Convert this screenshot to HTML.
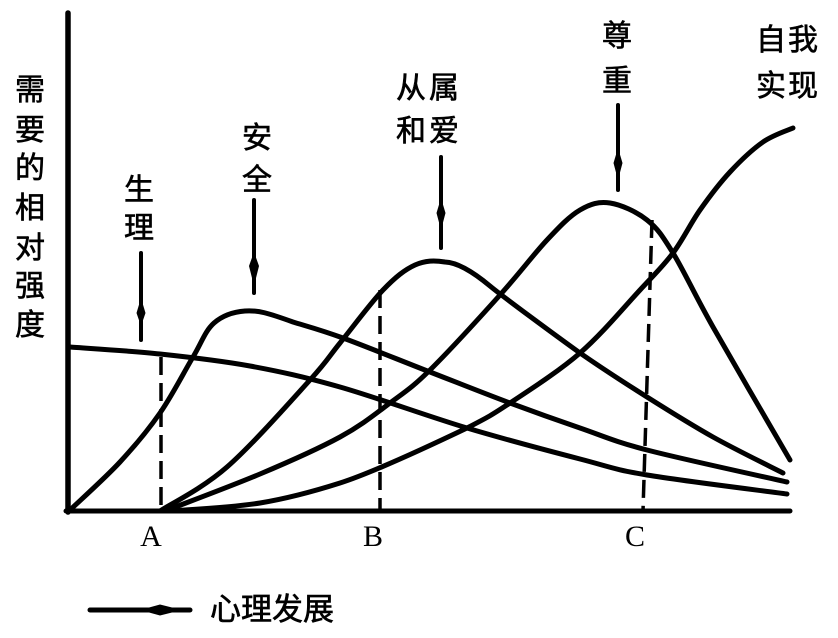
<!DOCTYPE html>
<html>
<head>
<meta charset="utf-8">
<style>
html,body{margin:0;padding:0;background:#fff;}
body{width:838px;height:638px;overflow:hidden;}
svg{display:block;}
.cn{font-family:"Liberation Sans","Noto Sans CJK SC",sans-serif;font-size:30px;fill:#000;stroke:#000;stroke-width:0.6px;}
.lt{font-family:"Liberation Serif",serif;font-size:30px;fill:#000;}
</style>
</head>
<body>
<svg width="838" height="638" viewBox="0 0 838 638" xmlns="http://www.w3.org/2000/svg">
<rect width="838" height="638" fill="#fff"/>

<!-- axes -->
<line x1="68" y1="13" x2="68" y2="512" stroke="#000" stroke-width="5.5" stroke-linecap="round"/>
<line x1="66" y1="511" x2="790" y2="511" stroke="#000" stroke-width="5" stroke-linecap="round"/>

<!-- dashed lines -->
<g stroke="#000" stroke-width="3.5" stroke-dasharray="18 8" fill="none">
<line x1="161" y1="357" x2="161" y2="511"/>
<line x1="380" y1="290" x2="380" y2="511"/>
<line x1="652" y1="220" x2="643" y2="511"/>
</g>

<!-- curves -->
<g stroke="#000" stroke-width="5" fill="none" stroke-linecap="round" stroke-linejoin="round">
<!-- 生理 -->
<path d="M70,347 C85,348.2 130,350.8 160,354 C190,357.2 220,360.5 250,366 C280,371.5 303.8,376.7 340,387 C376.2,397.3 427,416 467,428 C507,440 550,451.2 580,459 C610,466.8 612.5,469.2 647,475 C681.5,480.8 763.7,490.8 787,494"/>
<!-- 安全 -->
<path d="M70,510 C78.3,502 105,478.2 120,462 C135,445.8 147.8,430.5 160,413 C172.2,395.5 184.3,371.5 193,357 C201.7,342.5 205,331 214,323 C222,316 232,312 245,311 C258,310 268,313 293,322 C307.7,326.5 320.2,329.7 343,338 C365.8,346.3 402.2,361.2 430,372 C457.8,382.8 485,393.7 510,403 C535,412.3 557.2,420.2 580,428 C602.8,435.8 612.5,441 647,450 C681.5,459 763.7,476.7 787,482"/>
<!-- 从属和爱 -->
<path d="M160,511 C171.2,503.7 202,488.8 227,467 C252,445.2 291.2,400.7 310,380 C328.8,359.3 327.8,358 340,343 C352.2,328 370.5,303 383,290 C395.5,277 404.7,269.7 415,265 C425.3,260.3 434.7,260.3 445,262 C460,262.5 478,276 490,286 C502,296 555,335 580,353 C604.5,370 624.8,383 647,397 C669.2,411 690.3,424.3 713,437 C735.7,449.7 771.3,467 783,473"/>
<!-- 尊重 -->
<path d="M165,511 C180.8,504.8 230.8,486.3 260,474 C289.2,461.7 318.3,448.8 340,437 C361.7,425.2 375,414.2 390,403 C405,391.8 411.7,388 430,370 C448.3,352 480.5,316.7 500,295 C519.5,273.3 533.7,254.2 547,240 C560.3,225.8 569.5,216.2 580,210 C590.5,203.8 598.8,201.3 610,203 C621.2,204.7 636.5,211.7 647,220 C657.5,228.3 662,235.2 673,253 C684,270.8 693.5,292.5 713,327 C732.5,361.5 777.2,437.8 790,460"/>
<!-- 自我实现 -->
<path d="M170,511 C185,509.7 231.7,507.7 260,503 C288.3,498.3 318,490 340,483 C362,476 400,460 467,428 C488.7,416.8 491.2,415.5 510,403 C528.8,390.5 558.3,371.8 580,353 C601.7,334.2 624.5,306.7 640,290 C655.5,273.3 663,266.3 673,253 C683,239.7 690.5,223.5 700,210 C709.5,196.5 719.5,183.3 730,172 C740.5,160.7 752.5,149.3 763,142 C773.5,134.7 788,130.3 793,128"/>
</g>

<!-- arrows -->
<g fill="#000" stroke="#000">
<line x1="141" y1="253" x2="141" y2="340" stroke-width="4" stroke-linecap="round"/>
<path d="M141,298 L145.5,313 L141,326 L136.5,313 Z" stroke="none"/>
<line x1="254" y1="200" x2="254" y2="293" stroke-width="4" stroke-linecap="round"/>
<path d="M254,252 L259,266 L254,286 L249,266 Z" stroke="none"/>
<line x1="441" y1="157" x2="441" y2="248" stroke-width="4" stroke-linecap="round"/>
<path d="M441,198 L445.5,213 L441,230 L436.5,213 Z" stroke="none"/>
<line x1="618" y1="105" x2="618" y2="190" stroke-width="4" stroke-linecap="round"/>
<path d="M618,148 L622.5,163 L618,180 L613.5,163 Z" stroke="none"/>
<!-- legend arrow -->
<line x1="90" y1="610" x2="190" y2="610" stroke-width="5" stroke-linecap="round"/>
<path d="M140,610 L160,604.5 L182,610 L160,615.5 Z" stroke="none"/>
</g>

<!-- labels -->
<g class="cn" text-anchor="middle">
<text x="30" y="100">需</text>
<text x="30" y="140">要</text>
<text x="30" y="178">的</text>
<text x="30" y="218">相</text>
<text x="30" y="258">对</text>
<text x="30" y="296">强</text>
<text x="30" y="335">度</text>

<text x="139" y="200">生</text>
<text x="139" y="238">理</text>

<text x="257" y="148">安</text>
<text x="257" y="190">全</text>

<text x="429" y="98" letter-spacing="3">从属</text>
<text x="429" y="141" letter-spacing="3">和爱</text>

<text x="617" y="46">尊</text>
<text x="617" y="91">重</text>

<text x="788" y="50" letter-spacing="2">自我</text>
<text x="788" y="96" letter-spacing="2">实现</text>

<text x="272" y="620" style="font-size:31px">心理发展</text>
</g>

<!-- x labels -->
<g class="lt" text-anchor="middle">
<text x="151" y="546">A</text>
<text x="373" y="546">B</text>
<text x="635" y="546">C</text>
</g>
</svg>
</body>
</html>
